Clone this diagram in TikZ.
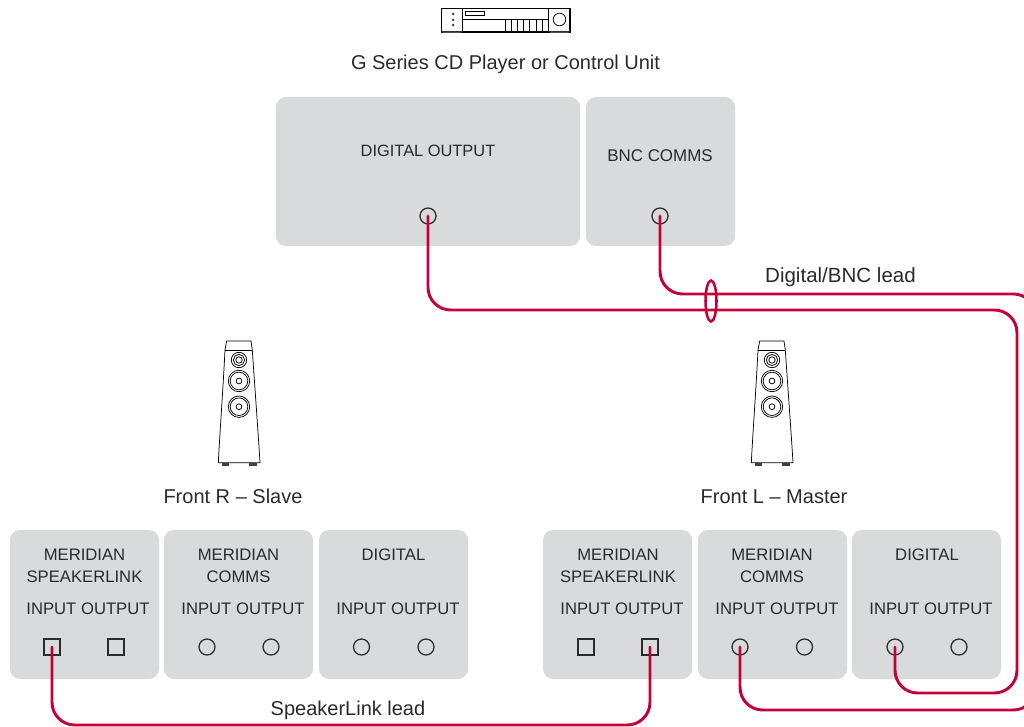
\documentclass[tikz,border=0pt]{standalone}
\usepackage{fontspec}
\setmainfont{Liberation Sans}
\definecolor{panel}{HTML}{D9DADC}
\definecolor{wire}{HTML}{C4003A}
\definecolor{ink}{HTML}{2A2A2A}
\tikzset{
  panelbox/.style={fill=panel,draw=none,rounded corners=7.5pt,minimum height=111.75pt,inner sep=0pt,outer sep=0pt},
  smallpanel/.style={panelbox,minimum width=111.75pt},
  label/.style={text=ink,font=\fontsize{12.5pt}{16.5pt}\selectfont,inner sep=0pt,align=center},
  caption/.style={text=ink,font=\fontsize{15pt}{18pt}\selectfont,inner sep=0pt,align=center},
  roundport/.style={circle,draw=ink,line width=0.95pt,minimum size=12pt,inner sep=0pt},
  squareport/.style={rectangle,draw=ink,line width=0.8pt,minimum size=12pt,inner sep=0pt},
  lead/.style={draw=wire,line width=2.2pt,line cap=round},
  icon/.style={draw=black,line width=0.55pt},
  speaker/.pic={
    \draw[icon,line join=round] (-12.3,-19) -- (12,-19) -- (13.3,-10) .. controls (16,30) and (19,70) .. (21,102.7) -- (-20.7,102.7) .. controls (-19,70) and (-16,30) .. (-14,-10) -- cycle;
    \draw[icon] (-14,-10) -- (13.3,-10);
    \foreach \r in {7.7,5.6,3.2} \draw[icon] (0,0) circle (\r);
    \foreach \cy in {21,46.7} {
      \foreach \r in {10.7,8.8,2.9} \draw[icon] (0,\cy) circle (\r);
    }
    \fill[black!75] (-17.3,102.7) rectangle (-9.7,105.7);
    \fill[black!75] (10.3,102.7) rectangle (18.3,105.7);
  }
}
\begin{document}
\begin{tikzpicture}[x=0.75pt,y=-0.75pt]
\path[use as bounding box] (0,0) rectangle (1024,727);
\clip (0,0) rectangle (1024,727);

% CD player icon
\draw[icon,line width=0.9pt] (441.5,8.5) rectangle (570,32);
\draw[icon] (462.7,8.5) -- (462.7,32) (548,8.5) -- (548,32) (462.7,19) -- (548,19);
\draw[icon] (465,11) rectangle (484.5,15.7);
\foreach \dy in {14,20,25} \fill[black!70] (453,\dy) circle (1.5);
\foreach \tx in {505,511.2,517.4,523.6,529.8,536,542} \draw[icon,line width=0.5pt] (\tx,19) -- (\tx,32);
\draw[icon] (559.5,19.5) circle (6.3);
\fill[black!70] (441.5,31.5) -- (462.7,31.5) -- (460,33) -- (443,33) -- cycle;
\fill[black!70] (548,31.5) -- (570,31.5) -- (568,33) -- (551,33) -- cycle;
\node[caption] (title) at (505.5,64.5) {G Series CD Player or Control Unit};

% upper panels
\node[panelbox,minimum width=228pt] (digitalout) at (428,171.5) {};
\node[smallpanel] (bnc) at (660.5,171.5) {};
\node[label,font=\fontsize{12.3pt}{16.5pt}\selectfont] (digitaltext) at (428,151) {DIGITAL OUTPUT};
\node[label,font=\fontsize{12.7pt}{16.5pt}\selectfont] (bnctext) at (660,156) {BNC COMMS};
\node[roundport] (pdo) at (428,216) {};
\node[roundport] (pbnc) at (660,216) {};

% speakers
\pic at (239,360) {speaker};
\pic at (772,360) {speaker};
\node[caption] (frontr) at (233,496.5) {Front R – Slave};
\node[caption] (frontl) at (774,496.5) {Front L – Master};

% lower panels
\node[smallpanel] (ra) at (84.5,604.5) {};
\node[smallpanel] (rb) at (238.5,604.5) {};
\node[smallpanel] (rc) at (393.5,604.5) {};
\node[smallpanel] (la) at (617.5,604.5) {};
\node[smallpanel] (lb) at (772.5,604.5) {};
\node[smallpanel] (lc) at (926.5,604.5) {};

\node[label] (ra1) at (84.5,566) {MERIDIAN\\SPEAKERLINK};
\node[label] (rb1) at (238.5,566) {MERIDIAN\\COMMS};
\node[label] (rc1) at (393.5,555) {DIGITAL};
\node[label] (la1) at (618,566) {MERIDIAN\\SPEAKERLINK};
\node[label] (lb1) at (772,566) {MERIDIAN\\COMMS};
\node[label] (lc1) at (927,555) {DIGITAL};

\node[label] (ra2) at (88,609) {INPUT OUTPUT};
\node[label] (rb2) at (243,609) {INPUT OUTPUT};
\node[label] (rc2) at (398,609) {INPUT OUTPUT};
\node[label] (la2) at (622,609) {INPUT OUTPUT};
\node[label] (lb2) at (777,609) {INPUT OUTPUT};
\node[label] (lc2) at (931,609) {INPUT OUTPUT};

\node[squareport] (rai) at (52,647) {};
\node[squareport] (rao) at (116,647) {};
\node[roundport] (rbi) at (207,647) {};
\node[roundport] (rbo) at (271,647) {};
\node[roundport] (rci) at (361.5,647) {};
\node[roundport] (rco) at (426,647) {};
\node[squareport] (lai) at (586,647) {};
\node[squareport] (lao) at (650,647) {};
\node[roundport] (lbi) at (740,647) {};
\node[roundport] (lbo) at (804.5,647) {};
\node[roundport] (lci) at (895,647) {};
\node[roundport] (lco) at (959,647) {};

% turning points of the leads
\coordinate (a1) at (428,310);
\coordinate (a2) at (1017,310);
\coordinate (a3) at (1017,693);
\coordinate (a4) at (895,693);
\coordinate (b1) at (660,294);
\coordinate (b2) at (1036,294);
\coordinate (b3) at (1036,710);
\coordinate (b4) at (740,710);
\coordinate (c1) at (52,725);
\coordinate (c2) at (650,725);

% leads
\draw[lead,rounded corners=17pt] (pdo.center) -- (a1) -- (a2) -- (a3) -- (a4) -- (lci.center);
\draw[lead,rounded corners=17pt] (pbnc.center) -- (b1) -- (b2) -- (b3) -- (b4) -- (lbi.center);
\draw[lead,rounded corners=17pt] (rai.center) -- (c1) -- (c2) -- (lao.center);

% sleeve round the two leads
\draw[draw=wire,line width=1.9pt] (711,301) ellipse (5.5 and 20.5);

\node[caption,font=\fontsize{15.4pt}{18pt}\selectfont] (bnclead) at (840.5,277) {Digital/BNC lead};
\node[caption] (sllead) at (348,710) {SpeakerLink lead};
\end{tikzpicture}
\end{document}
